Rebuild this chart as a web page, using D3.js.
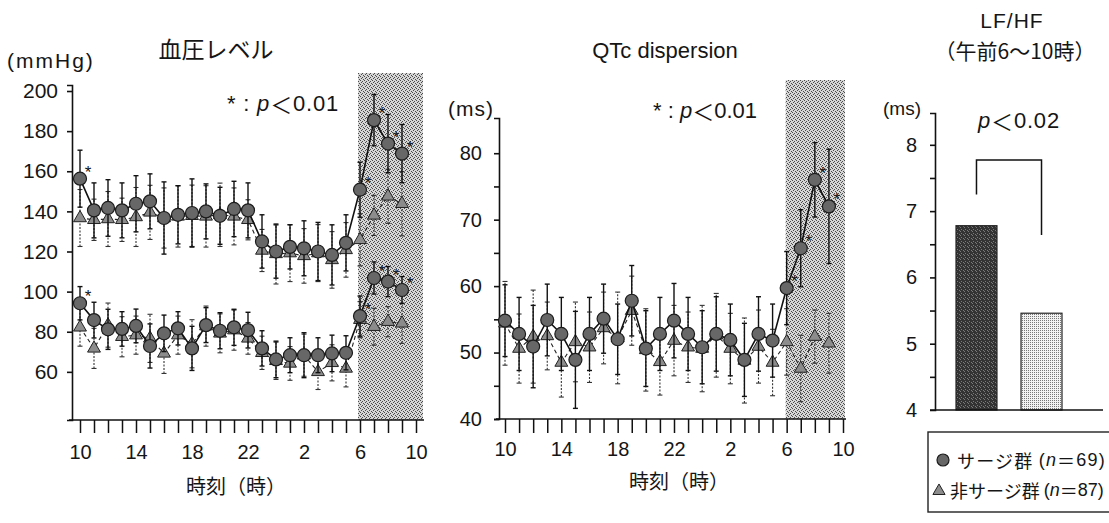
<!DOCTYPE html>
<html>
<head>
<meta charset="utf-8">
<script src="https://cdn.jsdelivr.net/npm/d3@7"></script>
<style>
  body { margin: 0; background: #fff; }
  svg text { font-family: "Liberation Sans", Arial, sans-serif; fill: #151515; }
</style>
</head>
<body>
<svg id="chart" width="1109" height="523"></svg>
<script>
// ---- data ----------------------------------------------------------------
// hourly readings from 10:00 to 9:00 the next morning
const hours = [10, 11, 12, 13, 14, 15, 16, 17, 18, 19, 20, 21, 22, 23, 0, 1, 2, 3, 4, 5, 6, 7, 8, 9];
const hourLabels = ["10", "14", "18", "22", "2", "6", "10"];
const hourLabelIdx = [0, 4, 8, 12, 16, 20, 24];
const morningWindow = [20, 24]; // 6:00 - 10:00

// systolic blood pressure (mmHg)
const sbpSurge   = [156.3, 140.5, 141.7, 140.5, 143.8, 145.0, 136.7, 138.3, 139.2, 140.0, 137.8, 141.2, 140.5, 125.0, 120.0, 122.3, 121.6, 120.0, 118.3, 124.3, 150.8, 185.5, 173.8, 168.8];
const sbpSurgeSD = [14.2, 13.7, 14.1, 13.7, 14.0, 13.7, 18.0, 14.5, 17.0, 13.7, 14.2, 13.8, 13.7, 13.3, 13.3, 11.0, 13.7, 14.5, 15.0, 14.0, 13.7, 12.8, 14.5, 14.5];
const sbpNon     = [136.7, 135.8, 136.2, 135.8, 137.2, 139.5, 136.7, 137.5, 137.8, 137.5, 138.3, 137.5, 135.8, 120.5, 118.8, 119.2, 117.8, 119.2, 115.8, 120.8, 125.8, 138.0, 147.5, 143.8];
const sbpNonSD   = [14.2, 10.3, 13.7, 10.8, 14.7, 13.5, 15.0, 15.3, 15.3, 15.3, 15.8, 14.2, 10.0, 10.5, 15.0, 14.2, 13.6, 14.2, 14.1, 13.6, 13.0, 10.0, 13.5, 16.0];

// diastolic blood pressure (mmHg)
const dbpSurge   = [94.2, 85.8, 81.2, 81.4, 82.9, 72.9, 79.2, 81.7, 71.7, 83.3, 80.5, 82.2, 80.8, 71.7, 66.2, 68.3, 68.3, 68.3, 69.2, 69.5, 87.8, 106.8, 105.0, 100.8];
const dbpSurgeSD = [8.3, 8.9, 10.0, 8.6, 8.4, 11.0, 9.1, 8.3, 11.0, 8.7, 9.0, 9.0, 8.9, 8.8, 9.1, 8.7, 11.2, 8.7, 9.1, 8.5, 10.0, 8.0, 7.5, 6.7];
const dbpNon     = [82.2, 71.7, 83.3, 77.5, 78.3, 76.7, 69.2, 78.3, 74.0, 82.8, 79.2, 80.8, 76.7, 69.5, 65.5, 64.2, 68.3, 60.0, 64.5, 61.7, 86.0, 82.5, 85.0, 84.2];
const dbpNonSD   = [9.4, 10.0, 11.0, 10.0, 9.5, 12.0, 10.0, 9.5, 12.0, 10.0, 9.7, 10.0, 7.9, 8.3, 9.3, 8.4, 10.5, 8.8, 9.0, 9.2, 9.0, 9.2, 7.5, 10.0];

// QTc dispersion (ms)
const qtcSurge   = [54.8, 52.8, 50.9, 54.9, 52.8, 48.9, 52.8, 55.1, 52.0, 57.8, 50.6, 52.8, 54.8, 52.8, 50.8, 52.8, 51.9, 48.9, 52.8, 51.8, 59.7, 65.7, 76.0, 72.0];
const qtcSurgeSD = [5.4, 5.5, 6.2, 5.4, 5.5, 7.3, 5.5, 5.2, 5.3, 5.3, 5.7, 5.5, 5.6, 5.5, 5.5, 5.6, 5.4, 5.5, 5.6, 5.5, 5.5, 5.8, 5.6, 8.6];
const qtcNon     = [54.4, 50.6, 52.4, 52.5, 48.5, 51.6, 50.8, 53.7, 52.2, 56.3, 50.4, 48.6, 51.8, 50.8, 50.6, 52.6, 50.6, 48.8, 50.9, 48.5, 51.6, 47.6, 52.4, 51.4];
const qtcNonSD   = [6.3, 5.2, 7.0, 5.1, 5.2, 6.0, 5.3, 5.4, 6.9, 5.2, 6.2, 5.0, 5.3, 5.3, 6.5, 6.3, 5.3, 6.4, 5.5, 5.0, 5.0, 5.0, 4.0, 4.5];

// hours with p < 0.01 between groups (indices into hours)
const bpStars  = [0, 20, 21, 22, 23];
const qtcStars = [20, 21, 22, 23];

// LF/HF, 6:00 - 10:00
const groups = ["サージ群", "非サージ群"];
const groupN = [69, 87];
const lfhf = [6.78, 5.46];
const bracketLevels = [7.25, 7.77, 6.64]; // left leg end, bar, right leg end

const bpTicks = [60, 80, 100, 120, 140, 160, 180, 200];
const qtcTicks = [40, 45, 50, 55, 60, 65, 70, 75, 80];
const qtcLabels = [40, 50, 60, 70, 80];
const lfTicks = [4, 4.5, 5, 5.5, 6, 6.5, 7, 7.5, 8];
const lfLabels = [4, 5, 6, 7, 8];

// ---- drawing ---------------------------------------------------------------
const svg = d3.select("#chart");
const JP = '"Noto Sans CJK JP", sans-serif';
const SANS = '"Liberation Sans", Arial, sans-serif';

const defs = svg.append("defs");
function screen(id, bg, ink, dots) {
  const p = defs.append("pattern").attr("id", id)
    .attr("width", 4).attr("height", 4).attr("patternUnits", "userSpaceOnUse");
  p.append("rect").attr("width", 4).attr("height", 4).attr("fill", bg);
  dots.forEach(([a, b]) => p.append("rect").attr("x", a).attr("y", b)
    .attr("width", 1).attr("height", 1).attr("fill", ink));
}
screen("shade", "#d6d6d6", "#4a4a4a", [[0, 0], [2, 1], [1, 2], [3, 3]]);
screen("darkbar", "#333", "#7a7a7a", [[1, 1], [3, 2], [0, 3]]);
screen("lightbar", "#f2f2f2", "#777", [[0, 0], [2, 0], [0, 2], [2, 2]]);

function rich(parent, x, y, parts, size, anchor, extra) {
  const t = parent.append("text").attr("x", x).attr("y", y)
    .attr("font-size", size).attr("text-anchor", anchor || "start")
    .attr("dominant-baseline", "central");
  if (extra) Object.entries(extra).forEach(([k, v]) => t.attr(k, v));
  parts.forEach(p => {
    const s = t.append("tspan").text(p.t);
    if (p.i) s.attr("font-style", "italic");
    if (p.jp) s.attr("font-family", JP);
  });
  return t;
}

function series(g, x, y, mean, sd, surge, stars) {
  // error bars (mean ± SD)
  const eb = g.append("g")
    .attr("stroke", surge ? "#111" : "#333")
    .attr("stroke-width", surge ? 1.4 : 1.1);
  mean.forEach((m, i) => {
    const cx = x(i);
    eb.append("line").attr("x1", cx).attr("x2", cx)
      .attr("y1", y(m - sd[i])).attr("y2", y(m + sd[i]))
      .attr("stroke-dasharray", surge ? null : "2,1.5");
    [m - sd[i], m + sd[i]].forEach(v => eb.append("line")
      .attr("x1", cx - 2.5).attr("x2", cx + 2.5).attr("y1", y(v)).attr("y2", y(v)));
  });
  const line = d3.line().x((d, i) => x(i)).y(d => y(d));
  g.append("path").datum(mean).attr("d", line).attr("fill", "none")
    .attr("stroke", surge ? "#111" : "#222")
    .attr("stroke-width", surge ? 1.6 : 1.1)
    .attr("stroke-dasharray", surge ? null : "4,3");
  if (surge) {
    g.selectAll(null).data(mean).join("circle")
      .attr("cx", (d, i) => x(i)).attr("cy", d => y(d)).attr("r", 6.5)
      .attr("fill", "#676767").attr("stroke", "#1c1c1c").attr("stroke-width", 1.2);
    (stars || []).forEach(i => g.append("text")
      .attr("x", x(i) + 8).attr("y", y(mean[i]) - 1)
      .attr("font-size", 17).attr("text-anchor", "middle").text("*"));
  } else {
    const tri = d3.symbol(d3.symbolTriangle, 72);
    g.selectAll(null).data(mean).join("path")
      .attr("d", tri).attr("transform", (d, i) => `translate(${x(i)},${y(d)})`)
      .attr("fill", "#8c8c8c").attr("stroke", "#222").attr("stroke-width", 1);
  }
}

function timePanel(c) {
  const g = svg.append("g");
  const x = d3.scaleLinear().domain([0, 24]).range(c.xRange);
  const y = d3.scaleLinear().domain(c.yDomain).range(c.yRange);

  const sx0 = x(morningWindow[0]) - c.shadePad[0];
  const sx1 = x(morningWindow[1]) + c.shadePad[1];
  g.append("rect").attr("x", sx0).attr("y", c.shadeTop)
    .attr("width", sx1 - sx0).attr("height", c.yRange[0] - c.shadeTop)
    .attr("fill", "url(#shade)");

  const ya = g.append("g").attr("transform", `translate(${c.axisX},0)`)
    .call(d3.axisLeft(y).tickValues(c.yTicks).tickSize(5).tickSizeOuter(5)
      .tickPadding(c.yPad).tickFormat(d => c.yLabels.includes(d) ? d : ""));
  ya.selectAll("text").attr("font-size", c.yFont).attr("fill", "#151515").attr("font-family", SANS);
  ya.selectAll("path,line").attr("stroke", "#111").attr("stroke-width", 1.6);

  const xa = g.append("g").attr("transform", `translate(0,${c.yRange[0]})`)
    .call(d3.axisBottom(x).tickValues(d3.range(25)).tickSize(c.xTick).tickPadding(c.xPad)
      .tickFormat(i => { const k = hourLabelIdx.indexOf(i); return k < 0 ? "" : hourLabels[k]; }));
  xa.select(".domain").remove();
  xa.selectAll("text").attr("font-size", 20).attr("fill", "#151515").attr("font-family", SANS);
  xa.selectAll("line").attr("stroke", "#111").attr("stroke-width", 1.5);
  xa.append("line").attr("x1", c.axisX - 3).attr("x2", x(24) + c.xEnd)
    .attr("stroke", "#111").attr("stroke-width", 1.6);

  c.series.forEach(s => series(g, x, y, s.mean, s.sd, s.surge, s.stars));
  return { g, x, y };
}

// blood pressure
timePanel({
  axisX: 72, xRange: [80, 416], yRange: [420, 85], yDomain: [36, 203],
  yTicks: bpTicks, yLabels: bpTicks, yPad: 9, yFont: 21, xTick: 13, xPad: 12, xEnd: 8,
  shadePad: [2, 7], shadeTop: 73,
  series: [
    { mean: sbpNon, sd: sbpNonSD, surge: false },
    { mean: dbpNon, sd: dbpNonSD, surge: false },
    { mean: sbpSurge, sd: sbpSurgeSD, surge: true, stars: bpStars },
    { mean: dbpSurge, sd: dbpSurgeSD, surge: true, stars: bpStars }
  ]
});

// QTc dispersion
timePanel({
  axisX: 499, xRange: [505, 843], yRange: [419, 118], yDomain: [40, 85.3],
  yTicks: qtcTicks, yLabels: qtcLabels, yPad: 12, yFont: 20, xTick: 14, xPad: 9, xEnd: 3,
  shadePad: [1, 2], shadeTop: 80,
  series: [
    { mean: qtcNon, sd: qtcNonSD, surge: false },
    { mean: qtcSurge, sd: qtcSurgeSD, surge: true, stars: qtcStars }
  ]
});

// LF/HF bars
const yb = d3.scaleLinear().domain([4, 8.48]).range([410, 113]);
const xb = d3.scaleBand().domain(groups).range([943, 1075]).paddingInner(0.37).paddingOuter(0.2);
const bg = svg.append("g");
bg.selectAll(null).data(lfhf).join("rect")
  .attr("x", (d, i) => xb(groups[i])).attr("width", xb.bandwidth())
  .attr("y", d => yb(d)).attr("height", d => yb(4) - yb(d))
  .attr("fill", (d, i) => i === 0 ? "url(#darkbar)" : "url(#lightbar)")
  .attr("stroke", "#222").attr("stroke-width", 1.2);
const yba = bg.append("g").attr("transform", "translate(935,0)")
  .call(d3.axisLeft(yb).tickValues(lfTicks).tickSize(5).tickSizeOuter(5).tickPadding(13)
    .tickFormat(d => lfLabels.includes(d) ? d : ""));
yba.selectAll("text").attr("font-size", 20).attr("fill", "#151515").attr("font-family", SANS);
yba.selectAll("path,line").attr("stroke", "#111").attr("stroke-width", 1.6);
yba.select(".tick:first-of-type line").remove();
bg.append("line").attr("x1", 930).attr("x2", 1103).attr("y1", yb(4)).attr("y2", yb(4))
  .attr("stroke", "#111").attr("stroke-width", 1.6);
const bxl = xb(groups[0]) + xb.bandwidth() / 2, bxr = xb(groups[1]) + xb.bandwidth() / 2;
bg.append("path")
  .attr("d", `M${bxl},${yb(bracketLevels[0])}V${yb(bracketLevels[1])}H${bxr}V${yb(bracketLevels[2])}`)
  .attr("fill", "none").attr("stroke", "#111").attr("stroke-width", 1.5);

// ---- titles and notes --------------------------------------------------------
rich(svg, 216, 48, [{ t: "血圧レベル", jp: true }], 23, "middle");
rich(svg, 7, 60, [{ t: "(mmHg)" }], 21, "start", { "letter-spacing": 2 });
rich(svg, 227, 103, [{ t: "* : " }, { t: "p", i: true }, { t: "＜", jp: true }, { t: "0.01" }], 22, "start", { "letter-spacing": 0.8 });

rich(svg, 665, 50, [{ t: "QTc dispersion" }], 22, "middle");
rich(svg, 448, 108, [{ t: "(ms)" }], 21, "start", { "letter-spacing": 1 });
rich(svg, 653, 110, [{ t: "*   : " }, { t: "p", i: true }, { t: "＜", jp: true }, { t: "0.01" }], 22, "start");

rich(svg, 236, 485, [{ t: "時刻（時）", jp: true }], 20, "middle");
rich(svg, 679, 480, [{ t: "時刻（時）", jp: true }], 20, "middle");

rich(svg, 1012, 20, [{ t: "LF/HF" }], 21, "middle", { "letter-spacing": 1 });
rich(svg, 1015, 50, [{ t: "（午前6〜10時）", jp: true }], 21, "middle");
rich(svg, 883, 108, [{ t: "(ms)" }], 19, "start");
rich(svg, 1019, 120, [{ t: "p", i: true }, { t: "＜", jp: true }, { t: "0.02" }], 22, "middle", { "letter-spacing": 0.8 });

// ---- legend ----------------------------------------------------------------
const lg = svg.append("g");
lg.append("rect").attr("x", 928).attr("y", 432).attr("width", 190).attr("height", 80)
  .attr("fill", "none").attr("stroke", "#222").attr("stroke-width", 1.4);
lg.append("circle").attr("cx", 943).attr("cy", 460).attr("r", 6)
  .attr("fill", "#676767").attr("stroke", "#1c1c1c").attr("stroke-width", 1.2);
lg.append("path").attr("d", d3.symbol(d3.symbolTriangle, 64)).attr("transform", "translate(939,491)")
  .attr("fill", "#8c8c8c").attr("stroke", "#222");
const legendX = [957, 950], legendSpacing = [1.2, 0];
groups.forEach((name, i) => {
  rich(lg, legendX[i], 460 + i * 30, [
    { t: name + " ", jp: true }, { t: "(" }, { t: "n", i: true }, { t: "＝", jp: true }, { t: groupN[i] + ")" }
  ], 18, "start", { "letter-spacing": legendSpacing[i] });
});
</script>
</body>
</html>
